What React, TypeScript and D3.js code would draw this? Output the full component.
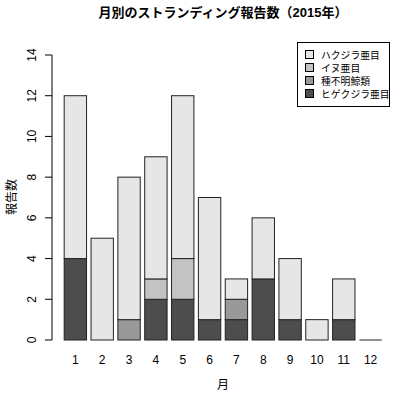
import { useEffect, useRef } from "react"
import * as d3 from "d3"

const months = ["1", "2", "3", "4", "5", "6", "7", "8", "9", "10", "11", "12"]
// bottom to top
const hige = [4, 0, 0, 2, 2, 1, 1, 3, 1, 0, 1, 0]
const fumei = [0, 0, 1, 0, 0, 0, 1, 0, 0, 0, 0, 0]
const inu = [0, 0, 0, 1, 2, 0, 0, 0, 0, 0, 0, 0]
const hakujira = [8, 5, 7, 6, 8, 6, 1, 3, 3, 1, 2, 0]
const seriesNames = ["ヒゲクジラ亜目", "種不明鯨類", "イヌ亜目", "ハクジラ亜目"]
const seriesColors = ["#4d4d4d", "#999999", "#c3c3c3", "#e6e6e6"]
const yTicks = [0, 2, 4, 6, 8, 10, 12, 14]

const font = "'Liberation Sans', Arial, 'Noto Sans CJK JP', sans-serif"

export default function App() {
  const svgRef = useRef<SVGSVGElement>(null)

  useEffect(() => {
    if (!svgRef.current) return
    const svg = d3.select(svgRef.current)
    svg.selectAll("*").remove()

    const values = [hige, fumei, inu, hakujira]
    const rows = months.map((m, i) => {
      const r: any = { month: m }
      values.forEach((v, k) => (r["s" + k] = v[i]))
      return r
    })
    const stack = d3.stack<any>().keys(["s0", "s1", "s2", "s3"])(rows)

    const x = d3.scaleBand().domain(months).range([61.5, 384.5]).paddingInner(0.2 / 1.2).paddingOuter(0.1)
    const y = d3.scaleLinear().domain([0, 14]).range([340, 55])

    // bars
    stack.forEach((layer, k) => {
      svg
        .append("g")
        .selectAll("rect")
        .data(layer.filter((d) => d[1] - d[0] > 0))
        .enter()
        .append("rect")
        .attr("x", (d: any) => x(d.data.month)!)
        .attr("y", (d) => y(d[1]))
        .attr("width", x.bandwidth())
        .attr("height", (d) => y(d[0]) - y(d[1]))
        .attr("fill", seriesColors[k])
        .attr("stroke", "#222")
        .attr("stroke-width", 1)
    })

    // zero-height bars still show as a flat line
    const totals = rows.map((r, i) => ({ month: r.month, total: hige[i] + fumei[i] + inu[i] + hakujira[i] }))
    svg
      .append("g")
      .selectAll("line")
      .data(totals.filter((d) => d.total === 0))
      .enter()
      .append("line")
      .attr("x1", (d) => x(d.month)!)
      .attr("x2", (d) => x(d.month)! + x.bandwidth())
      .attr("y1", y(0))
      .attr("y2", y(0))
      .attr("stroke", "#222")

    // y axis
    const ya = svg.append("g").attr("transform", "translate(52,0)")
    ya.append("line").attr("x1", 0).attr("x2", 0).attr("y1", y(0)).attr("y2", y(14)).attr("stroke", "#000")
    yTicks.forEach((t) => {
      ya.append("line").attr("x1", -7).attr("x2", 0).attr("y1", y(t)).attr("y2", y(t)).attr("stroke", "#000")
      ya.append("text")
        .attr("transform", `translate(-16,${y(t)}) rotate(-90)`)
        .attr("text-anchor", "middle")
        .attr("font-size", 12)
        .attr("font-family", font)
        .text(t)
    })

    // x labels
    svg
      .append("g")
      .selectAll("text")
      .data(months)
      .enter()
      .append("text")
      .attr("x", (d) => x(d)! + x.bandwidth() / 2)
      .attr("y", 364)
      .attr("text-anchor", "middle")
      .attr("font-size", 12)
      .attr("font-family", font)
      .text((d) => d)

    svg.append("text").attr("x", 223).attr("y", 389).attr("text-anchor", "middle")
      .attr("font-size", 12).attr("font-family", font).text("月")

    svg.append("text").attr("transform", "translate(16,197) rotate(-90)").attr("text-anchor", "middle")
      .attr("font-size", 12).attr("font-family", font).text("報告数")

    svg.append("text").attr("x", 223).attr("y", 17).attr("text-anchor", "middle")
      .attr("font-size", 13).attr("font-weight", "bold").attr("font-family", font)
      .text("月別のストランディング報告数（2015年）")

    // legend
    const lg = svg.append("g")
    lg.append("rect").attr("x", 297.5).attr("y", 42.5).attr("width", 92).attr("height", 64)
      .attr("fill", "#fff").attr("stroke", "#000")
    const order = [3, 2, 1, 0]
    order.forEach((k, i) => {
      const yy = 54.5 + i * 13
      lg.append("rect").attr("x", 305.5).attr("y", yy - 4).attr("width", 8).attr("height", 8)
        .attr("fill", seriesColors[k]).attr("stroke", "#000")
      lg.append("text").attr("x", 321).attr("y", yy + 4).attr("font-size", 9.8)
        .attr("font-family", font).text(seriesNames[k])
    })
  }, [])

  return (
    <svg ref={svgRef} width={400} height={396} style={{ position: "absolute", left: 0, top: 0, background: "#fff" }} />
  )
}
